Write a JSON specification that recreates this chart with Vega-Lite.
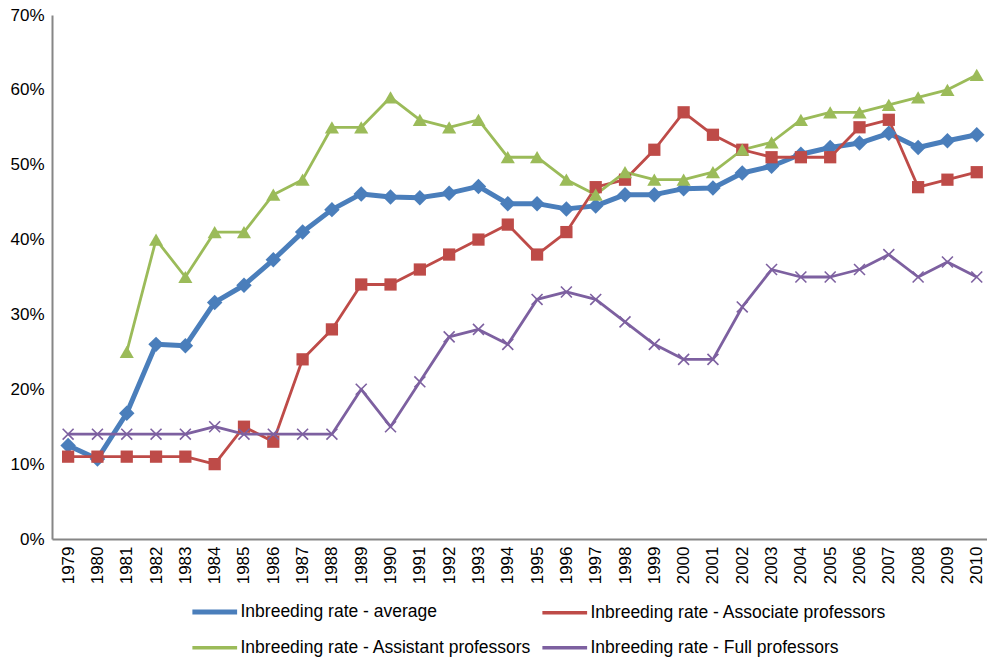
{
  "$schema": "https://vega.github.io/schema/vega-lite/v6.json",
  "width": 935,
  "height": 524,
  "autosize": "none",
  "padding": {"left": 52, "top": 15, "right": 0, "bottom": 123},
  "background": "#ffffff",
  "config": {
    "view": {"stroke": null},
    "font": "Liberation Sans"
  },
  "data": {
    "values": [
      {"year": 1979, "series": "Inbreeding rate - average", "rate": 12.5},
      {"year": 1980, "series": "Inbreeding rate - average", "rate": 10.7},
      {"year": 1981, "series": "Inbreeding rate - average", "rate": 16.8},
      {"year": 1982, "series": "Inbreeding rate - average", "rate": 26.0},
      {"year": 1983, "series": "Inbreeding rate - average", "rate": 25.8},
      {"year": 1984, "series": "Inbreeding rate - average", "rate": 31.6},
      {"year": 1985, "series": "Inbreeding rate - average", "rate": 33.9},
      {"year": 1986, "series": "Inbreeding rate - average", "rate": 37.3},
      {"year": 1987, "series": "Inbreeding rate - average", "rate": 41.0},
      {"year": 1988, "series": "Inbreeding rate - average", "rate": 44.0},
      {"year": 1989, "series": "Inbreeding rate - average", "rate": 46.1},
      {"year": 1990, "series": "Inbreeding rate - average", "rate": 45.7},
      {"year": 1991, "series": "Inbreeding rate - average", "rate": 45.6},
      {"year": 1992, "series": "Inbreeding rate - average", "rate": 46.2},
      {"year": 1993, "series": "Inbreeding rate - average", "rate": 47.1},
      {"year": 1994, "series": "Inbreeding rate - average", "rate": 44.8},
      {"year": 1995, "series": "Inbreeding rate - average", "rate": 44.8},
      {"year": 1996, "series": "Inbreeding rate - average", "rate": 44.1},
      {"year": 1997, "series": "Inbreeding rate - average", "rate": 44.5},
      {"year": 1998, "series": "Inbreeding rate - average", "rate": 46.0},
      {"year": 1999, "series": "Inbreeding rate - average", "rate": 46.0},
      {"year": 2000, "series": "Inbreeding rate - average", "rate": 46.8},
      {"year": 2001, "series": "Inbreeding rate - average", "rate": 46.9},
      {"year": 2002, "series": "Inbreeding rate - average", "rate": 48.9},
      {"year": 2003, "series": "Inbreeding rate - average", "rate": 49.8},
      {"year": 2004, "series": "Inbreeding rate - average", "rate": 51.4},
      {"year": 2005, "series": "Inbreeding rate - average", "rate": 52.3},
      {"year": 2006, "series": "Inbreeding rate - average", "rate": 52.9},
      {"year": 2007, "series": "Inbreeding rate - average", "rate": 54.2},
      {"year": 2008, "series": "Inbreeding rate - average", "rate": 52.3},
      {"year": 2009, "series": "Inbreeding rate - average", "rate": 53.2},
      {"year": 2010, "series": "Inbreeding rate - average", "rate": 54.0},

      {"year": 1979, "series": "Inbreeding rate - Associate professors", "rate": 11},
      {"year": 1980, "series": "Inbreeding rate - Associate professors", "rate": 11},
      {"year": 1981, "series": "Inbreeding rate - Associate professors", "rate": 11},
      {"year": 1982, "series": "Inbreeding rate - Associate professors", "rate": 11},
      {"year": 1983, "series": "Inbreeding rate - Associate professors", "rate": 11},
      {"year": 1984, "series": "Inbreeding rate - Associate professors", "rate": 10},
      {"year": 1985, "series": "Inbreeding rate - Associate professors", "rate": 15},
      {"year": 1986, "series": "Inbreeding rate - Associate professors", "rate": 13},
      {"year": 1987, "series": "Inbreeding rate - Associate professors", "rate": 24},
      {"year": 1988, "series": "Inbreeding rate - Associate professors", "rate": 28},
      {"year": 1989, "series": "Inbreeding rate - Associate professors", "rate": 34},
      {"year": 1990, "series": "Inbreeding rate - Associate professors", "rate": 34},
      {"year": 1991, "series": "Inbreeding rate - Associate professors", "rate": 36},
      {"year": 1992, "series": "Inbreeding rate - Associate professors", "rate": 38},
      {"year": 1993, "series": "Inbreeding rate - Associate professors", "rate": 40},
      {"year": 1994, "series": "Inbreeding rate - Associate professors", "rate": 42},
      {"year": 1995, "series": "Inbreeding rate - Associate professors", "rate": 38},
      {"year": 1996, "series": "Inbreeding rate - Associate professors", "rate": 41},
      {"year": 1997, "series": "Inbreeding rate - Associate professors", "rate": 47},
      {"year": 1998, "series": "Inbreeding rate - Associate professors", "rate": 48},
      {"year": 1999, "series": "Inbreeding rate - Associate professors", "rate": 52},
      {"year": 2000, "series": "Inbreeding rate - Associate professors", "rate": 57},
      {"year": 2001, "series": "Inbreeding rate - Associate professors", "rate": 54},
      {"year": 2002, "series": "Inbreeding rate - Associate professors", "rate": 52},
      {"year": 2003, "series": "Inbreeding rate - Associate professors", "rate": 51},
      {"year": 2004, "series": "Inbreeding rate - Associate professors", "rate": 51},
      {"year": 2005, "series": "Inbreeding rate - Associate professors", "rate": 51},
      {"year": 2006, "series": "Inbreeding rate - Associate professors", "rate": 55},
      {"year": 2007, "series": "Inbreeding rate - Associate professors", "rate": 56},
      {"year": 2008, "series": "Inbreeding rate - Associate professors", "rate": 47},
      {"year": 2009, "series": "Inbreeding rate - Associate professors", "rate": 48},
      {"year": 2010, "series": "Inbreeding rate - Associate professors", "rate": 49},

      {"year": 1981, "series": "Inbreeding rate - Assistant professors", "rate": 25},
      {"year": 1982, "series": "Inbreeding rate - Assistant professors", "rate": 40},
      {"year": 1983, "series": "Inbreeding rate - Assistant professors", "rate": 35},
      {"year": 1984, "series": "Inbreeding rate - Assistant professors", "rate": 41},
      {"year": 1985, "series": "Inbreeding rate - Assistant professors", "rate": 41},
      {"year": 1986, "series": "Inbreeding rate - Assistant professors", "rate": 46},
      {"year": 1987, "series": "Inbreeding rate - Assistant professors", "rate": 48},
      {"year": 1988, "series": "Inbreeding rate - Assistant professors", "rate": 55},
      {"year": 1989, "series": "Inbreeding rate - Assistant professors", "rate": 55},
      {"year": 1990, "series": "Inbreeding rate - Assistant professors", "rate": 59},
      {"year": 1991, "series": "Inbreeding rate - Assistant professors", "rate": 56},
      {"year": 1992, "series": "Inbreeding rate - Assistant professors", "rate": 55},
      {"year": 1993, "series": "Inbreeding rate - Assistant professors", "rate": 56},
      {"year": 1994, "series": "Inbreeding rate - Assistant professors", "rate": 51},
      {"year": 1995, "series": "Inbreeding rate - Assistant professors", "rate": 51},
      {"year": 1996, "series": "Inbreeding rate - Assistant professors", "rate": 48},
      {"year": 1997, "series": "Inbreeding rate - Assistant professors", "rate": 46},
      {"year": 1998, "series": "Inbreeding rate - Assistant professors", "rate": 49},
      {"year": 1999, "series": "Inbreeding rate - Assistant professors", "rate": 48},
      {"year": 2000, "series": "Inbreeding rate - Assistant professors", "rate": 48},
      {"year": 2001, "series": "Inbreeding rate - Assistant professors", "rate": 49},
      {"year": 2002, "series": "Inbreeding rate - Assistant professors", "rate": 52},
      {"year": 2003, "series": "Inbreeding rate - Assistant professors", "rate": 53},
      {"year": 2004, "series": "Inbreeding rate - Assistant professors", "rate": 56},
      {"year": 2005, "series": "Inbreeding rate - Assistant professors", "rate": 57},
      {"year": 2006, "series": "Inbreeding rate - Assistant professors", "rate": 57},
      {"year": 2007, "series": "Inbreeding rate - Assistant professors", "rate": 58},
      {"year": 2008, "series": "Inbreeding rate - Assistant professors", "rate": 59},
      {"year": 2009, "series": "Inbreeding rate - Assistant professors", "rate": 60},
      {"year": 2010, "series": "Inbreeding rate - Assistant professors", "rate": 62},

      {"year": 1979, "series": "Inbreeding rate - Full professors", "rate": 14},
      {"year": 1980, "series": "Inbreeding rate - Full professors", "rate": 14},
      {"year": 1981, "series": "Inbreeding rate - Full professors", "rate": 14},
      {"year": 1982, "series": "Inbreeding rate - Full professors", "rate": 14},
      {"year": 1983, "series": "Inbreeding rate - Full professors", "rate": 14},
      {"year": 1984, "series": "Inbreeding rate - Full professors", "rate": 15},
      {"year": 1985, "series": "Inbreeding rate - Full professors", "rate": 14},
      {"year": 1986, "series": "Inbreeding rate - Full professors", "rate": 14},
      {"year": 1987, "series": "Inbreeding rate - Full professors", "rate": 14},
      {"year": 1988, "series": "Inbreeding rate - Full professors", "rate": 14},
      {"year": 1989, "series": "Inbreeding rate - Full professors", "rate": 20},
      {"year": 1990, "series": "Inbreeding rate - Full professors", "rate": 15},
      {"year": 1991, "series": "Inbreeding rate - Full professors", "rate": 21},
      {"year": 1992, "series": "Inbreeding rate - Full professors", "rate": 27},
      {"year": 1993, "series": "Inbreeding rate - Full professors", "rate": 28},
      {"year": 1994, "series": "Inbreeding rate - Full professors", "rate": 26},
      {"year": 1995, "series": "Inbreeding rate - Full professors", "rate": 32},
      {"year": 1996, "series": "Inbreeding rate - Full professors", "rate": 33},
      {"year": 1997, "series": "Inbreeding rate - Full professors", "rate": 32},
      {"year": 1998, "series": "Inbreeding rate - Full professors", "rate": 29},
      {"year": 1999, "series": "Inbreeding rate - Full professors", "rate": 26},
      {"year": 2000, "series": "Inbreeding rate - Full professors", "rate": 24},
      {"year": 2001, "series": "Inbreeding rate - Full professors", "rate": 24},
      {"year": 2002, "series": "Inbreeding rate - Full professors", "rate": 31},
      {"year": 2003, "series": "Inbreeding rate - Full professors", "rate": 36},
      {"year": 2004, "series": "Inbreeding rate - Full professors", "rate": 35},
      {"year": 2005, "series": "Inbreeding rate - Full professors", "rate": 35},
      {"year": 2006, "series": "Inbreeding rate - Full professors", "rate": 36},
      {"year": 2007, "series": "Inbreeding rate - Full professors", "rate": 38},
      {"year": 2008, "series": "Inbreeding rate - Full professors", "rate": 35},
      {"year": 2009, "series": "Inbreeding rate - Full professors", "rate": 37},
      {"year": 2010, "series": "Inbreeding rate - Full professors", "rate": 35}
    ]
  },
  "encoding": {
    "x": {
      "field": "year",
      "type": "quantitative",
      "scale": {"domain": [1978.45, 2010.35], "nice": false, "zero": false},
      "axis": {
        "values": [1979,1980,1981,1982,1983,1984,1985,1986,1987,1988,1989,1990,1991,1992,1993,1994,1995,1996,1997,1998,1999,2000,2001,2002,2003,2004,2005,2006,2007,2008,2009,2010],
        "format": "d",
        "labelAngle": 270,
        "ticks": false,
        "grid": false,
        "title": null,
        "domainColor": "#868686",
        "domainWidth": 2,
        "labelFontSize": 17,
        "labelColor": "#000000",
        "labelPadding": 7,
        "labelOverlap": false,
        "labelFlush": false
      }
    },
    "y": {
      "field": "rate",
      "type": "quantitative",
      "scale": {"domain": [0, 70], "nice": false},
      "axis": {
        "values": [0, 10, 20, 30, 40, 50, 60, 70],
        "labelExpr": "datum.value + '%'",
        "ticks": false,
        "grid": false,
        "title": null,
        "domainColor": "#868686",
        "domainWidth": 2,
        "labelFontSize": 17,
        "labelColor": "#000000",
        "labelPadding": 8,
        "labelFlush": false
      }
    },
    "color": {
      "field": "series",
      "type": "nominal",
      "scale": {
        "domain": ["Inbreeding rate - average", "Inbreeding rate - Associate professors", "Inbreeding rate - Assistant professors", "Inbreeding rate - Full professors"],
        "range": ["#4A7EBB", "#BE4B48", "#9BBB59", "#7D60A0"]
      },
      "legend": {
        "orient": "none",
        "legendX": 154,
        "legendY": 588,
        "columns": 2,
        "direction": "horizontal",
        "title": null,
        "symbolType": "stroke",
        "symbolSize": 2000,
        "symbolStrokeWidth": 4,
        "labelFontSize": 17.5,
        "labelLimit": 0,
        "labelColor": "#000000",
        "labelOffset": 17,
        "columnPadding": 3,
        "rowPadding": 16,
        "encode": {
          "symbols": {
            "update": {
              "strokeWidth": {"signal": "datum.value === 'Inbreeding rate - average' ? 5 : 3.5"}
            }
          }
        }
      }
    }
  },
  "layer": [
    {
      "mark": {"type": "line", "strokeJoin": "round"},
      "encoding": {
        "strokeWidth": {
          "condition": {"test": "datum.series === 'Inbreeding rate - average'", "value": 5},
          "value": 2.8
        }
      }
    },
    {
      "transform": [{"filter": "datum.series !== 'Inbreeding rate - Full professors'"}],
      "mark": {"type": "point", "filled": true, "opacity": 1},
      "encoding": {
        "shape": {
          "field": "series",
          "type": "nominal",
          "scale": {
            "domain": ["Inbreeding rate - average", "Inbreeding rate - Associate professors", "Inbreeding rate - Assistant professors"],
            "range": ["diamond", "square", "triangle-up"]
          },
          "legend": null
        },
        "size": {
          "condition": [
            {"test": "datum.series === 'Inbreeding rate - average'", "value": 240},
            {"test": "datum.series === 'Inbreeding rate - Assistant professors'", "value": 200}
          ],
          "value": 150
        }
      }
    },
    {
      "transform": [{"filter": "datum.series === 'Inbreeding rate - Full professors'"}],
      "mark": {"type": "point", "filled": false, "shape": "M-1,-1L1,1M-1,1L1,-1", "size": 120, "strokeWidth": 1.6, "opacity": 1},
      "encoding": {}
    }
  ]
}
